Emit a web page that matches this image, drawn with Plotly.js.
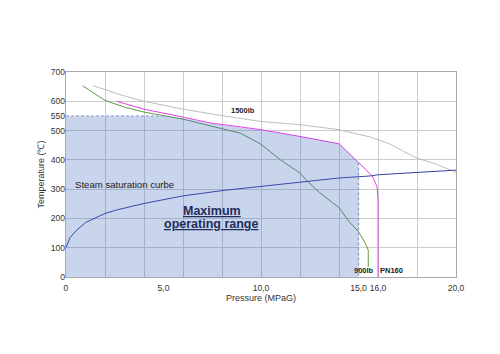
<!DOCTYPE html>
<html>
<head>
<meta charset="utf-8">
<script src="https://cdn.plot.ly/plotly-3.0.1.min.js"></script>
<style>html,body{margin:0;padding:0;background:#fff;}#chart{width:500px;height:354px;}</style>
</head>
<body>
<div id="chart"></div>
<script>
// ---- data ----
var p1500 = [1.4, 2, 3, 4, 6, 8, 10, 12, 14, 15.6, 16.6, 17.3, 18, 19, 20];
var t1500 = [653, 640, 618, 600, 573, 551, 531, 520, 503, 478, 455, 429, 406, 385, 358];

var p900 = [0.85, 2, 3, 4, 6, 7.4, 8.94, 9.96, 11, 12, 12.4, 13, 14, 14.5, 15, 15.35, 15.5, 15.5];
var t900 = [653, 603, 580, 563, 539, 516, 491, 455, 400, 355, 326, 288, 237, 190, 155, 115, 92, 35];

var pPN = [2.6, 4, 6, 7.4, 9, 10, 12, 14, 15, 15.4, 15.7, 15.95, 16, 16];
var tPN = [600, 573, 546, 526, 512, 503, 480, 455, 391, 365, 345, 309, 265, 0];

var pSteam = [0, 0.1, 0.2, 0.5, 1, 2, 2.6, 4, 6, 8, 10, 12, 14, 15.6, 16, 18, 20];
var tSteam = [100, 120, 134, 157, 186, 217, 229, 251, 277, 295, 309, 325, 338, 345, 349, 357, 365];

var pRange = [0, 0, 5, 6, 7.4, 9, 10, 12, 14, 15, 15, 0];
var tRange = [0, 550, 550, 543, 524, 511, 502, 480, 455, 391, 0, 0];

var pTopEdge = [0, 5];
var tTopEdge = [550, 550];
var pSideEdge = [15, 15];
var tSideEdge = [391, 0];

var xTickVals = [0, 5, 10, 15, 16, 20];
var xTickText = ['0', '5,0', '10,0', '15,0', '16,0', '20,0'];
var yTickVals = [0, 100, 200, 300, 400, 500, 550, 600, 700];

var traces = [
  {x: p1500, y: t1500, mode: 'lines', line: {color: '#bdbdbd', width: 1}},
  {x: p900, y: t900, mode: 'lines', line: {color: '#5d9c48', width: 1}},
  {x: pPN, y: tPN, mode: 'lines', line: {color: '#e83ee8', width: 1}},
  {x: pSteam, y: tSteam, mode: 'lines', line: {color: '#3b3fa3', width: 1}},
  {x: pRange, y: tRange, mode: 'lines', fill: 'toself', fillcolor: 'rgba(60,100,190,0.28)', line: {width: 0}},
  {x: pTopEdge, y: tTopEdge, xaxis: 'x2', yaxis: 'y2', mode: 'lines', line: {color: '#8c9bc4', width: 1, dash: '3px,2px'}},
  {x: pSideEdge, y: tSideEdge, xaxis: 'x2', yaxis: 'y2', mode: 'lines', line: {color: '#8c9bc4', width: 1.3, dash: '3px,2px'}}
];

var tickFont = {family: 'Liberation Sans, Arial, sans-serif', size: 8.6, color: '#333'};
var narrowBold = {family: 'Liberation Sans Narrow, Arial Narrow, Liberation Sans, sans-serif', size: 7.5, color: '#222', weight: 'bold'};
var bigFont = {family: 'Liberation Sans, Arial, sans-serif', size: 12.5, color: '#1f2d5c', weight: 'bold', lineposition: 'under'};

var layout = {
  width: 500, height: 354,
  margin: {l: 66, r: 44, t: 72, b: 77},
  paper_bgcolor: '#fff', plot_bgcolor: '#fff',
  showlegend: false, hovermode: false,
  xaxis: {range: [0, 20], tickmode: 'linear', tick0: 0, dtick: 2, showticklabels: false,
          showgrid: true, gridcolor: '#cccccc', gridwidth: 1, zeroline: false,
          showline: true, linecolor: '#a8a8a8', linewidth: 1, mirror: true, ticks: ''},
  yaxis: {range: [0, 700], tickmode: 'linear', tick0: 0, dtick: 100, showticklabels: false,
          showgrid: true, gridcolor: '#cccccc', gridwidth: 1, zeroline: false,
          showline: true, linecolor: '#a8a8a8', linewidth: 1, mirror: true, ticks: ''},
  xaxis2: {overlaying: 'x', anchor: 'y2', side: 'bottom', range: [0, 20], tickmode: 'array',
           tickvals: xTickVals, ticktext: xTickText, tickangle: 0, showgrid: false, zeroline: false,
           showline: false, ticks: '', tickfont: tickFont, ticklabelstandoff: 4,
           title: {text: 'Pressure (MPaG)', font: {family: 'Liberation Sans, Arial, sans-serif', size: 9, color: '#333'}, standoff: 2}},
  yaxis2: {overlaying: 'y', anchor: 'x2', side: 'left', range: [0, 700], tickmode: 'array',
           tickvals: yTickVals, showgrid: false, zeroline: false, showline: false, ticks: '',
           tickfont: tickFont,
           title: {text: 'Temperature (℃)', font: {family: 'Liberation Sans, Arial, sans-serif', size: 9, color: '#333'}, standoff: 4}},
  annotations: [
    {x: 9.06, y: 569, xref: 'x', yref: 'y', text: '1500lb', showarrow: false, font: narrowBold},
    {x: 0.36, y: 315, xref: 'x', yref: 'y', text: 'Steam saturation curbe', showarrow: false, xanchor: 'left',
     font: {family: 'Liberation Sans, Arial, sans-serif', size: 9.6, color: '#222'}},
    {x: 7.48, y: 227, xref: 'x', yref: 'y', text: 'Maximum', showarrow: false, font: bigFont},
    {x: 7.48, y: 180, xref: 'x', yref: 'y', text: 'operating range', showarrow: false, font: bigFont},
    {x: 15.26, y: 21, xref: 'x', yref: 'y', text: '900lb', showarrow: false, font: narrowBold},
    {x: 16.68, y: 21, xref: 'x', yref: 'y', text: 'PN160', showarrow: false, font: narrowBold}
  ]
};

Plotly.newPlot('chart', traces, layout, {staticPlot: true, displayModeBar: false});
</script>
</body>
</html>
